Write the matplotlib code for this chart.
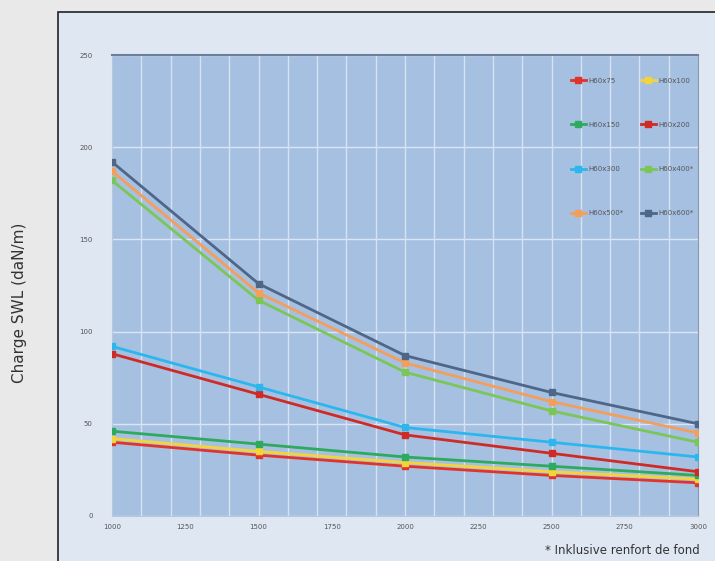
import matplotlib
matplotlib.use("Agg")
import matplotlib.pyplot as plt
from matplotlib.patches import Rectangle
import numpy as np

# portée (mm) et charge SWL (daN/m)
spans = [1000, 1500, 2000, 2500, 3000]
h60x75 = [40, 33, 27, 22, 18]
h60x100 = [42, 35, 29, 24, 20]
h60x150 = [46, 39, 32, 27, 22]
h60x200 = [88, 66, 44, 34, 24]
h60x300 = [92, 70, 48, 40, 32]
h60x400 = [182, 117, 78, 57, 40]
h60x500 = [187, 121, 83, 62, 45]
h60x600 = [192, 126, 87, 67, 50]

names = ["H60x75", "H60x100", "H60x150", "H60x200",
         "H60x300", "H60x400*", "H60x500*", "H60x600*"]
series = [h60x75, h60x100, h60x150, h60x200, h60x300, h60x400, h60x500, h60x600]
colors = ["#e2332b", "#f2d43c", "#2eaa5e", "#d02a25",
          "#2bb7ee", "#7cc656", "#f49e5c", "#4e6688"]

fig = plt.figure(figsize=(7.15, 5.61), dpi=100)
fig.patch.set_facecolor("#e9e9e9")
box = Rectangle((58 / 715, -0.05), 1.0, 1 - 12 / 561 + 0.05,
                transform=fig.transFigure, facecolor="#dfe7f3",
                edgecolor="#222222", linewidth=1.2, zorder=-5)
fig.patches.append(box)

ax = fig.add_axes([112 / 715, 45 / 561, 586 / 715, 461 / 561])
ax.set_facecolor("#a6c0e2")

handles = []
for name, vals, c in zip(names, series, colors):
    h, = ax.plot(spans, vals, color=c, lw=2, marker="s", ms=5, label=name, zorder=3)
    handles.append(h)

ax.set_xlim(1000, 3000)
ax.set_ylim(0, 250)
ax.set_xticks(np.arange(1000, 3001, 250))
ax.set_yticks(np.arange(0, 251, 50))
# vertical grid every 100 mm, independent of the 250 labels
for gx in np.arange(1100, 3000, 100):
    ax.axvline(gx, color="#d6e2f2", lw=1, zorder=1)
ax.grid(True, which="major", axis="y", color="#dbe6f4", lw=1)
ax.set_axisbelow(True)
ax.tick_params(axis="both", which="both", length=0, labelsize=5, colors="#555555", pad=6)
ax.tick_params(axis="y", pad=14)
for s in ["left", "bottom"]:
    ax.spines[s].set_color("#b8c7dc")
ax.spines["top"].set_color("#6d7f99")
ax.spines["right"].set_color("#8a99b0")
ax.spines["top"].set_linewidth(1.5)

# legend filled row by row
order = [0, 2, 4, 6, 1, 3, 5, 7]
leg = ax.legend([handles[i] for i in order], [names[i] for i in order],
                ncol=2, loc="upper right", bbox_to_anchor=(1.0, 0.96),
                frameon=False, fontsize=5, labelspacing=5.5,
                columnspacing=2.4, handlelength=2.2, handletextpad=0.4,
                borderaxespad=0.2)
for t in leg.get_texts():
    t.set_color("#555555")

fig.text(20 / 715, 1 - 303 / 561, "Charge SWL (daN/m)", rotation=90, va="center",
         ha="center", fontsize=11, color="#333333")
fig.text(700 / 715, 10 / 561, "* Inklusive renfort de fond", ha="right",
         va="center", fontsize=8.5, color="#333333")

fig.savefig("out.png", dpi=100, facecolor=fig.get_facecolor())
